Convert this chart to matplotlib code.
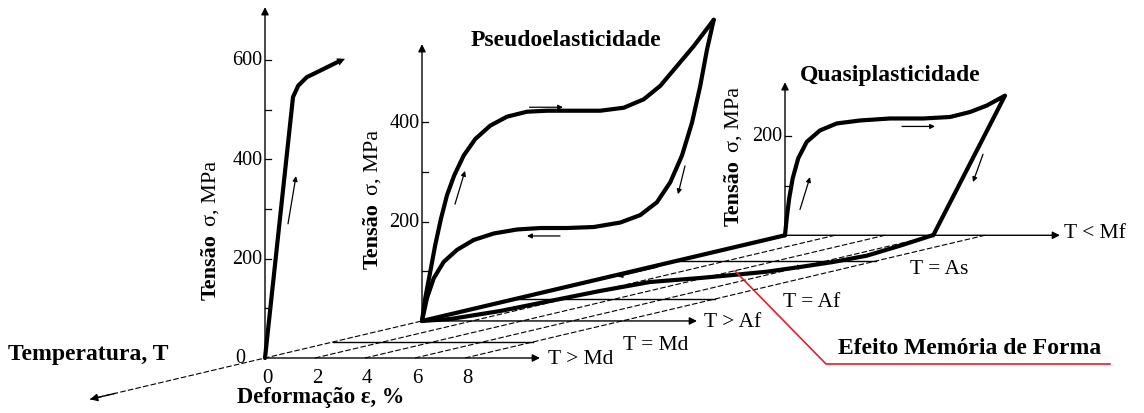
import numpy as np
import matplotlib.pyplot as plt
from matplotlib.transforms import Affine2D

plt.rcParams['font.family'] = ['Liberation Serif', 'DejaVu Serif']

# niveis de temperatura (coordenada de profundidade do esquema)
levels = ["T > Md", "T = Md", "T > Af", "T = Af", "T = As", "T < Mf"]
level_depth = [0, 68, 157, 250, 411, 520]
level_axis = [True, False, True, False, False, True]

strain_ticks = [0, 2, 4, 6, 8]

# T > Md : curva elastica + escoamento
md_e = [0, 1.12, 1.33, 1.67, 2.2, 3.0]
md_s = [0, 525, 548, 565, 578, 598]

# T > Af : pseudoelasticidade (carga)
af_load_e = [0, 0.13, 0.33, 0.53, 0.76, 1.0, 1.29, 1.67, 2.13, 2.73, 3.4, 4.2,
             5.0, 6.07, 7.13, 8.07, 8.87, 9.53, 10.2, 10.87, 11.67]
af_load_s = [0, 46, 99, 153, 206, 253, 293, 333, 366, 393, 411, 421,
             423, 423, 423, 429, 446, 473, 513, 553, 606]
# descarga
af_unl_e = [11.67, 11.4, 11.13, 10.8, 10.4, 9.93, 9.4, 8.73, 7.93, 6.87, 5.8,
            4.73, 3.8, 2.87, 2.07, 1.4, 0.87, 0.47, 0.2, 0]
af_unl_s = [606, 546, 473, 399, 333, 279, 239, 213, 198, 189, 187,
            187, 184, 176, 163, 143, 119, 86, 46, 0]

# T < Mf : quasiplasticidade
mf_e = [0, 0.07, 0.17, 0.31, 0.53, 0.87, 1.4, 2.07, 3.0, 4.2, 5.53, 6.6, 7.4,
        8.07, 8.8, 5.93]
mf_s = [0, 35, 75, 115, 155, 188, 211, 225, 231, 235, 235, 238, 248,
        261, 281, 0]

# recuperacao no aquecimento (tensao nula): deformacao x profundidade
rec_e = [5.9, 6.37, 6.73, 6.45, 5.98, 5.45, 4.65, 3.84, 2.52, 2.04, 1.74,
         1.44, 0.8, 0]
rec_d = [520, 475.8, 433.5, 406.8, 385.6, 365.7, 351.7, 339, 322, 284, 241.5,
         199, 165, 157]

fig = plt.figure(figsize=(11.44, 4.14), dpi=100)
ax = fig.add_axes([0, 0, 1, 1])
ax.set_xlim(0, 1144)
ax.set_ylim(414, 0)
ax.axis('off')

X0, Y0, K, EPX, SPX = 265, 359, 0.236, 25, 0.497


def plane(d):
    return Affine2D().scale(EPX, -SPX).translate(X0 + d, Y0 - K * d) + ax.transData


base = Affine2D(np.array([[EPX, 1, X0], [0, -K, Y0], [0, 0, 1]])) + ax.transData

axkw = dict(arrowstyle='-|>', lw=1.0, color='black', mutation_scale=11,
            shrinkA=0, shrinkB=0)
small = dict(arrowstyle='-|>', lw=0.9, color='black', mutation_scale=7,
             shrinkA=0, shrinkB=0)
thick = dict(color='black', lw=3, solid_joinstyle='round', solid_capstyle='round')

# grade do plano base
for e in strain_ticks:
    d0 = -175 if e == 0 else 0
    ax.plot([e, e], [d0, 520], transform=base, color='black', lw=0.8,
            ls=(0, (5, 2)))
ax.annotate('', xy=(0, -175), xytext=(0, -150), xycoords=base, textcoords=base,
            arrowprops=axkw)

for name, d, is_axis in zip(levels, level_depth, level_axis):
    tr = plane(d)
    if is_axis:
        ax.annotate('', xy=(11, 0), xytext=(0, 0), xycoords=tr, textcoords=tr,
                    arrowprops=axkw)
    else:
        ax.plot([0, 8], [0, 0], transform=tr, color='black', lw=1.0)

lab_pos = {"T > Md": (548, 360), "T = Md": (623, 346), "T > Af": (704, 323),
           "T = Af": (783, 303), "T = As": (910, 270), "T < Mf": (1064, 234)}
for name, (x, y) in lab_pos.items():
    ax.text(x, y, name, fontsize=15.5, ha='left', va='center')

# eixos de tensao
stress_axes = [(0, 706, [100, 200, 300, 400, 500, 600], [200, 400, 600]),
               (157, 557, [100, 200, 300, 400], [200, 400]),
               (520, 308, [100, 200], [200])]
for d, top, ticks, labs in stress_axes:
    tr = plane(d)
    ax.annotate('', xy=(0, top), xytext=(0, 0), xycoords=tr, textcoords=tr,
                arrowprops=axkw)
    for s in ticks:
        ax.plot([0, 0.22], [s, s], transform=tr, color='black', lw=0.9)
    for s in labs:
        ax.text(-0.1, s, str(s), transform=tr, fontsize=14.5, ha='right',
                va='center')
ax.text(-0.8, 2, "0", transform=plane(0), fontsize=14.5, ha='right', va='center')

for e in strain_ticks:
    ax.text(e + 0.08, -39, str(e), transform=plane(0), fontsize=15,
            ha='center', va='center')

# rotulos de tensao
for x, ym in [(211, 226), (373, 195), (734, 152)]:
    ax.text(x, ym + 8, "Tensão", rotation=90, rotation_mode='anchor', ha='right',
            va='center', fontsize=16, fontweight='bold')
    ax.text(x, ym, "σ, MPa", rotation=90, rotation_mode='anchor', ha='left',
            va='center', fontsize=16)

# curvas
tr1, tr2, tr3 = plane(0), plane(157), plane(520)
ax.plot(md_e, md_s, transform=tr1, **thick)
ax.annotate('', xy=(3.2, 602), xytext=(2.4, 584), xycoords=tr1, textcoords=tr1,
            arrowprops=dict(arrowstyle='-|>', lw=0, color='black',
                            mutation_scale=14, shrinkA=0, shrinkB=0))
ax.plot(af_load_e, af_load_s, transform=tr2, **thick)
ax.plot(af_unl_e, af_unl_s, transform=tr2, **thick)
ax.plot(mf_e, mf_s, transform=tr3, **thick)
ax.plot([0, 0], [157, 520], transform=base, **thick)
ax.plot(rec_e, rec_d, transform=base, **thick)

# setas de sentido
for tr, a, b in [(tr1, (0.92, 270), (1.24, 366)),
                 (tr2, (4.3, 430), (5.64, 430)),
                 (tr2, (1.32, 235), (1.72, 302)),
                 (tr2, (10.52, 312), (10.24, 255)),
                 (tr2, (5.52, 171), (4.2, 171)),
                 (tr3, (0.6, 52), (1.0, 117)),
                 (tr3, (4.68, 219), (6.0, 219)),
                 (tr3, (7.92, 163), (7.52, 107))]:
    ax.annotate('', xy=b, xytext=a, xycoords=tr, textcoords=tr,
                arrowprops=small)
ax.annotate('', xy=(0.3, 345), xytext=(0.3, 385), xycoords=base, textcoords=base,
            arrowprops=small)
ax.annotate('', xy=(6.0, 388), xytext=(5.45, 366), xycoords=base,
            textcoords=base, arrowprops=small)

# textos
tkw = dict(fontsize=17, fontweight='bold', va='center')
ax.text(566, 40, "Pseudoelasticidade", ha='center', **tkw)
ax.text(890, 75, "Quasiplasticidade", ha='center', **tkw)
ax.text(8, 355, "Temperatura, T", ha='left', **tkw)
ax.text(237, 398, "Deformação ε, %", ha='left', fontsize=16.3,
        fontweight='bold', va='center')
ax.text(838, 349, "Efeito Memória de Forma", ha='left', **tkw)
ax.plot([735, 826, 1110], [272, 365, 365], color='#e0202a', lw=1.2)

fig.savefig('out.png', dpi=100)
